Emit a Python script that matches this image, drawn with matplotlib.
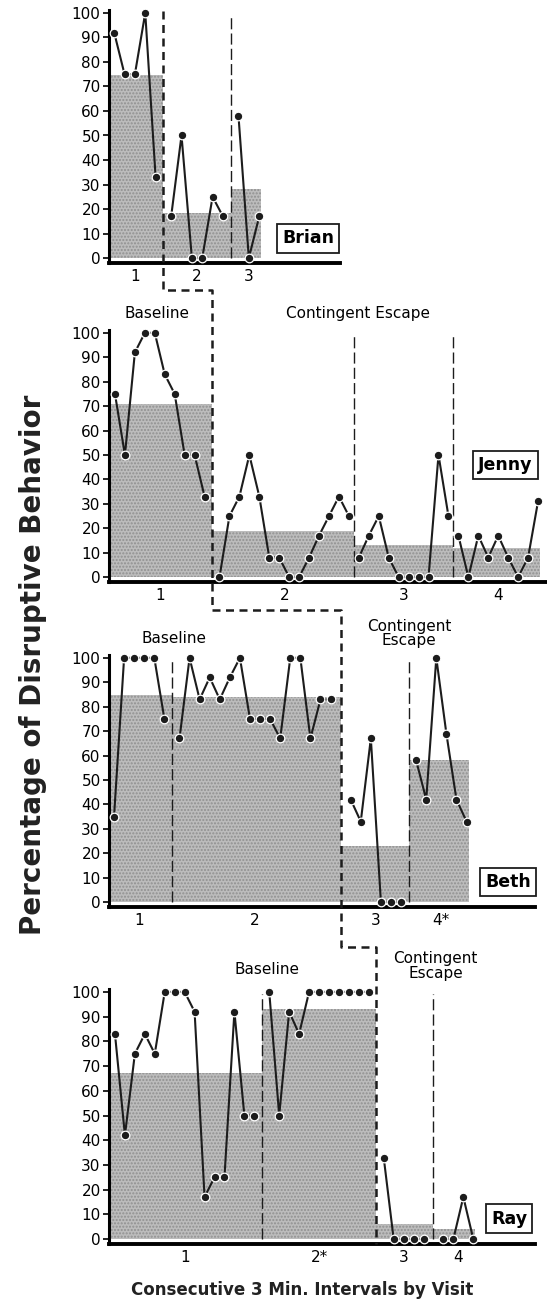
import matplotlib
matplotlib.use("Agg")
import matplotlib.pyplot as plt
from matplotlib.lines import Line2D

plt.rcParams['font.family'] = ['DejaVu Sans']

# values per visit (percentage of 3-min intervals)
brian_visits = [[92, 75, 75, 100, 33],
                [17, 50, 0, 0, 25, 17],
                [58, 0, 17]]
brian_means = [74.5, 18.5, 28]

jenny_visits = [[75, 50, 92, 100, 100, 83, 75, 50, 50, 33],
                [0, 25, 33, 50, 33, 8, 8, 0, 0, 8, 17, 25, 33, 25],
                [8, 17, 25, 8, 0, 0, 0, 0, 50, 25],
                [17, 0, 17, 8, 17, 8, 0, 8, 31]]
jenny_means = [71, 19, 13, 12]

beth_visits = [[35, 100, 100, 100, 100, 75],
               [67, 100, 83, 92, 83, 92, 100, 75, 75, 75, 67, 100, 100, 67, 83, 83],
               [42, 33, 67, 0, 0, 0],
               [58, 42, 100, 69, 42, 33]]
beth_means = [85, 84, 23, 58]

ray_visits = [[83, 42, 75, 83, 75, 100, 100, 100, 92, 17, 25, 25, 92, 50, 50],
              [100, 50, 92, 83, 100, 100, 100, 100, 100, 100, 100],
              [33, 0, 0, 0, 0],
              [0, 0, 17, 0]]
ray_means = [67, 93, 6, 4]

names = ["Brian", "Jenny", "Beth", "Ray"]
visit_labels = [["1", "2", "3"], ["1", "2", "3", "4"],
                ["1", "2", "3", "4*"], ["1", "2*", "3", "4"]]

# layout of each panel
panels = [
    dict(visits=brian_visits, means=brian_means, gaps=[1.5, 1.5], phase=0,
         xlim=(-0.5, 21.8), box=(18.7, 8), px=(109, 340, 8, 263),
         base=None, cont=None),
    dict(visits=jenny_visits, means=jenny_means, gaps=[1.5, 1, 1], phase=0,
         xlim=(-0.6, 43.4), box=(39.2, 46), px=(109, 547, 328, 582),
         base=(4.2, 108), cont=(24.4, 108, "Contingent Escape")),
    dict(visits=beth_visits, means=beth_means, gaps=[1.5, 2, 1.5], phase=1,
         xlim=(-0.5, 41.8), box=(39.1, 8.3), px=(109, 535, 653, 907),
         base=(6, 108), cont=(29.3, 110, "Contingent\nEscape")),
    dict(visits=ray_visits, means=ray_means, gaps=[1.5, 1.5, 2], phase=1,
         xlim=(-0.6, 42.2), box=(39.6, 8.3), px=(109, 535, 987, 1244),
         base=(15.3, 109), cont=(32.2, 110.5, "Contingent\nEscape")),
]
conn_y = [-13, -13.5, -18.5]

W, H = 547, 1303
fig = plt.figure(figsize=(W / 100, H / 100), dpi=100)

dark = '#1c1c1c'
shade = '#bcbcbc'
axes = []
phase_x = []

for i, p in enumerate(panels):
    l, r, t, b = p['px']
    ax = fig.add_axes([l / W, 1 - b / H, (r - l) / W, (b - t) / H])
    axes.append(ax)

    # x positions of points, with gaps between visits
    xs_all = []
    x = 0.0
    for k, vals in enumerate(p['visits']):
        if k > 0:
            x += p['gaps'][k - 1] - 1
        xs = []
        for _ in vals:
            xs.append(x)
            x += 1
        xs_all.append(xs)

    seps = [(xs_all[k][-1] + xs_all[k + 1][0]) / 2 for k in range(len(xs_all) - 1)]
    edges = [p['xlim'][0]] + seps + [xs_all[-1][-1] + 0.2]

    for k in range(len(xs_all)):
        ax.bar(edges[k], p['means'][k], width=edges[k + 1] - edges[k], align='edge',
               color=shade, edgecolor='#909090', linewidth=0, hatch='.....', zorder=1)

    for k, (xs, vals) in enumerate(zip(xs_all, p['visits'])):
        ax.plot(xs, vals, color=dark, lw=1.5, marker='o', ms=6.2,
                mfc=dark, mec='white', mew=0.9, zorder=4, clip_on=False)

    for k, s in enumerate(seps):
        if k == p['phase']:
            phase_x.append(s)
        else:
            ax.plot([s, s], [0, 99], color=dark, lw=1.0, dashes=(8, 3), zorder=3)

    centers = [(xs[0] + xs[-1]) / 2 for xs in xs_all]
    ax.set_xticks(centers)
    ax.set_xticklabels(visit_labels[i], fontsize=11)
    ax.tick_params(axis='x', length=0, pad=4)
    ax.set_xlim(*p['xlim'])
    ax.set_ylim(-2, 102)
    ax.set_yticks(range(0, 101, 10))
    ax.tick_params(axis='y', length=4, width=1.2, labelsize=11, pad=2)

    for s in ['top', 'right']:
        ax.spines[s].set_visible(False)
    ax.spines['left'].set_linewidth(2.2)
    ax.spines['left'].set_bounds(-2, 101)
    ax.spines['bottom'].set_linewidth(2.8)
    ax.patch.set_alpha(0)

    bx, by = p['box']
    ax.text(bx, by, names[i], fontsize=12.5, fontweight='bold', ha='center', va='center',
            bbox=dict(boxstyle='square,pad=0.3', fc='white', ec=dark, lw=1.3), zorder=6)
    if p['base']:
        ax.text(p['base'][0], p['base'][1], "Baseline", fontsize=11, ha='center',
                va='center', clip_on=False)
    if p['cont']:
        cx, cy, ctext = p['cont']
        ax.text(cx, cy, ctext, fontsize=11, ha='center', va='center',
                linespacing=0.95, clip_on=False)

# staircase phase-change line across the panels
fig.canvas.draw()
inv = fig.transFigure.inverted()
pts = []
for i, ax in enumerate(axes):
    top = 100.8 if i == 0 else conn_y[i - 1]
    bottom = conn_y[i] if i < len(conn_y) else -2
    if i == 0:
        pts.append(inv.transform(ax.transData.transform((phase_x[i], top))))
    else:
        prev = axes[i - 1]
        yfig = inv.transform(prev.transData.transform((0, top)))[1]
        xfig = inv.transform(ax.transData.transform((phase_x[i], 0)))[0]
        pts.append((xfig, yfig))
    pts.append(inv.transform(ax.transData.transform((phase_x[i], bottom))))
fig.add_artist(Line2D([q[0] for q in pts], [q[1] for q in pts], transform=fig.transFigure,
                      color=dark, lw=1.8, dashes=(3.2, 2.2), zorder=5))

fig.text(33 / W, 1 - 665 / H, "Percentage of Disruptive Behavior", rotation=90,
         fontsize=20, fontweight='bold', ha='center', va='center', color='#222222')
fig.text(302 / W, 1 - 1290 / H, "Consecutive 3 Min. Intervals by Visit",
         fontsize=12, fontweight='bold', ha='center', va='center', color='#222222')

fig.savefig("out.png", dpi=100)
